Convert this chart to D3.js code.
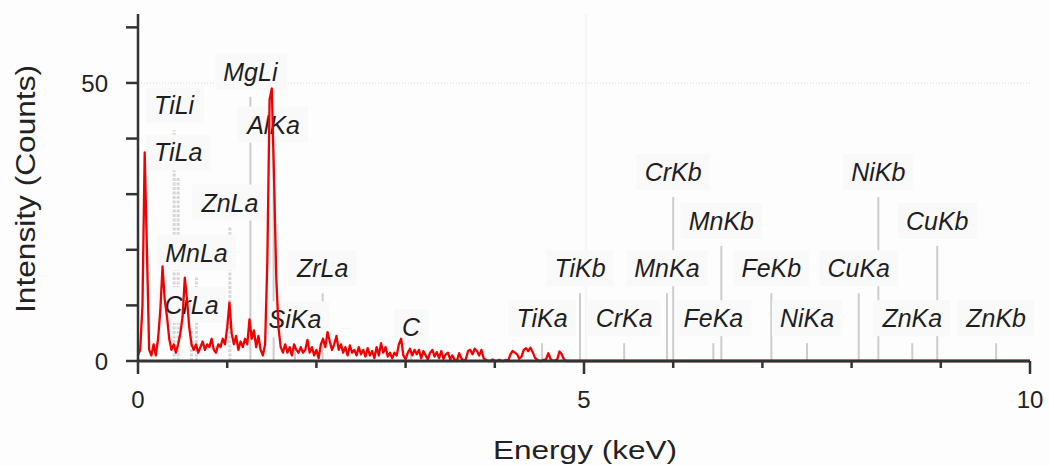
<!DOCTYPE html>
<html>
<head>
<meta charset="utf-8">
<script src="https://cdn.jsdelivr.net/npm/d3@7"></script>
<style>
  body { margin: 0; background: #fdfdfd; }
  text { font-family: 'Liberation Sans', Arial, sans-serif; }
</style>
</head>
<body>
<div id="chart"></div>
<script>
// spectrum channels: 0.025 keV wide, starting at 0 keV
const channelWidth = 0.025;
const counts = [
  1, 2, 10, 37.5, 20, 2, 1, 3, 1, 4,
  9, 17, 11, 8, 4, 2, 3, 1.5, 3, 5,
  8, 15, 11, 6, 3, 2, 3, 1.5, 2.5, 3.5,
  2, 3, 2.5, 4, 2, 1.5, 3, 2.5, 4, 3,
  6, 10.5, 5, 3, 4.5, 2, 3.5, 2.5, 4, 3,
  7.5, 4, 5.5, 2.5, 4.5, 2, 1, 3, 18, 47,
  49, 33, 15, 6, 2.5, 1.5, 3, 1.5, 2.5, 1,
  3, 2, 1.5, 2.5, 1.5, 2, 3.8, 1.5, 2.5, 1,
  2, 0.5, 3, 4, 2.5, 5.2, 3.5, 2, 3, 4.5,
  2, 3, 1.5, 2.5, 1, 2.8, 1.5, 2, 1, 2.5,
  1.2, 2, 0.8, 2.3, 1, 1.8, 0.5, 2.5, 1, 3.2,
  1.5, 2.5, 0.8, 1.5, 0.5, 1.5, 1, 3, 4, 1,
  0.3, 1.5, 2.2, 1, 2, 1.2, 2, 0.5, 1.8, 1,
  0.3, 1.5, 2, 0.8, 1.6, 0.5, 1.8, 0.4, 1.2, 1.5,
  0.3, 1, 0.2, 0, 1.4, 0.5, 0, 0.3, 1.8, 2,
  1.2, 2.2, 1.8, 1, 2, 0.5, 0.2, 0, 0, 0.3,
  0, 0, 0.2, 0, 0, 0.2, 0, 1.2, 1.8, 1.5,
  1.2, 0.4, 0.8, 2, 2.3, 1.8, 2.4, 1.6, 0.6, 0.2,
  0, 0, 0.2, 0.3, 1.4, 0.4, 0, 0.1, 0.3, 1.7,
  1.2, 0.3, 0
];
const spectrumEnd = 10;

// element markers
const lineNames = ['TiLi', 'TiLa', 'CrLa', 'MnLa', 'ZnLa', 'MgLi', 'AlKa', 'SiKa', 'ZrLa', 'C',
  'TiKa', 'TiKb', 'CrKa', 'MnKa', 'CrKb', 'FeKa', 'MnKb', 'FeKb', 'NiKa', 'CuKa',
  'NiKb', 'ZnKa', 'CuKb', 'ZnKb'];
const lineEnergies = [0.405, 0.45, 0.6, 0.655, 1.03, 1.26, 1.52, 1.76, 2.07, 3.06,
  4.53, 4.955, 5.45, 5.93, 6.0, 6.45, 6.54, 7.1, 7.5, 8.08,
  8.3, 8.68, 8.96, 9.62];
const lineHeights = [41.5, 33, 5.6, 15, 24, 47.5, 38, 3, 12.2, 1.6,
  3.2, 12.2, 3.2, 12.2, 29.5, 3.2, 20.7, 12.2, 3.2, 12.2,
  29.5, 3.2, 20.7, 3.2];
const dashedLines = ['TiLi', 'TiLa', 'CrLa', 'MnLa', 'ZnLa'];

const xTicks = [0, 1, 2, 3, 4, 5, 6, 7, 8, 9, 10];
const xTickLabels = [0, 5, 10];
const yTicks = [0, 10, 20, 30, 40, 50, 60];
const yTickLabels = [0, 50];

const svg = d3.select('#chart').append('svg')
    .attr('width', 1049)
    .attr('height', 466);

svg.append('rect')
    .attr('width', 1049)
    .attr('height', 466)
    .attr('fill', '#fdfdfd');

const x = d3.scaleLinear().domain([0, 10]).range([138, 1030]);
const y = d3.scaleLinear().domain([0, 62.4]).range([361, 14]);

// faint grid at the major values
svg.append('line')
    .attr('x1', x(0)).attr('x2', x(10))
    .attr('y1', y(50)).attr('y2', y(50))
    .attr('stroke', '#d8d8d8')
    .attr('stroke-width', 1)
    .attr('stroke-dasharray', '1,2');

svg.append('line')
    .attr('x1', x(5) + 2).attr('x2', x(5) + 2)
    .attr('y1', y(62.4)).attr('y2', y(0))
    .attr('stroke', '#eeeeee')
    .attr('stroke-width', 1);

// marker lines
const markers = lineNames.map((name, i) => ({name, e: lineEnergies[i], h: lineHeights[i]}));

svg.append('g').selectAll('line')
    .data(markers)
    .join('line')
    .attr('x1', d => x(d.e)).attr('x2', d => x(d.e))
    .attr('y1', y(0)).attr('y2', d => y(d.h))
    .attr('stroke', d => dashedLines.includes(d.name) ? '#d6d6d6' : '#cdcdcd')
    .attr('stroke-width', d => dashedLines.includes(d.name) ? 3 : 2)
    .attr('stroke-dasharray', d => dashedLines.includes(d.name) ? '3,1.5' : null);

// labels with their pale boxes
const labels = svg.append('g').selectAll('g')
    .data(markers)
    .join('g')
    .attr('transform', d => 'translate(' + x(d.e) + ',' + (y(d.h) - 16) + ')');

labels.append('text')
    .attr('text-anchor', 'middle')
    .attr('font-size', 25)
    .attr('font-style', 'italic')
    .attr('fill', '#1e1e1e')
    .text(d => d.name);

labels.each(function () {
  const g = d3.select(this);
  const box = g.select('text').node().getBBox();
  g.insert('rect', 'text')
      .attr('x', box.x - 8)
      .attr('y', box.y - 4)
      .attr('width', box.width + 16)
      .attr('height', box.height + 8)
      .attr('fill', '#f9f9f9');
});

// spectrum
const spectrum = counts.map((c, i) => ({e: i * channelWidth, c}));
spectrum.push({e: spectrumEnd, c: 0});

const line = d3.line()
    .x(d => x(d.e))
    .y(d => y(d.c));

svg.append('path')
    .datum(spectrum)
    .attr('fill', 'none')
    .attr('stroke', '#f00000')
    .attr('stroke-width', 2.3)
    .attr('stroke-linejoin', 'round')
    .attr('d', line);

// axes
const axisColor = '#333';

svg.append('line')
    .attr('x1', x(0)).attr('x2', x(10))
    .attr('y1', y(0)).attr('y2', y(0))
    .attr('stroke', axisColor)
    .attr('stroke-width', 3);

svg.append('line')
    .attr('x1', x(0)).attr('x2', x(0))
    .attr('y1', y(62.4)).attr('y2', y(0) + 1)
    .attr('stroke', axisColor)
    .attr('stroke-width', 2.5);

svg.append('g').selectAll('line')
    .data(xTicks)
    .join('line')
    .attr('x1', d => x(d)).attr('x2', d => x(d))
    .attr('y1', y(0))
    .attr('y2', d => y(0) + (d % 5 === 0 ? 13 : 7))
    .attr('stroke', axisColor)
    .attr('stroke-width', 2.5);

svg.append('g').selectAll('text')
    .data(xTickLabels)
    .join('text')
    .attr('x', d => x(d))
    .attr('y', 408)
    .attr('text-anchor', 'middle')
    .attr('font-size', 24)
    .attr('fill', '#222')
    .text(d => d);

svg.append('g').selectAll('line')
    .data(yTicks)
    .join('line')
    .attr('x1', x(0) - 12).attr('x2', x(0))
    .attr('y1', d => y(d)).attr('y2', d => y(d))
    .attr('stroke', axisColor)
    .attr('stroke-width', 2.5);

svg.append('g').selectAll('text')
    .data(yTickLabels)
    .join('text')
    .attr('x', 108)
    .attr('y', d => y(d) + 9)
    .attr('text-anchor', 'end')
    .attr('font-size', 24)
    .attr('fill', '#222')
    .text(d => d);

svg.append('text')
    .attr('x', 585)
    .attr('y', 459)
    .attr('text-anchor', 'middle')
    .attr('font-size', 26)
    .attr('fill', '#222')
    .attr('textLength', 184)
    .attr('lengthAdjust', 'spacingAndGlyphs')
    .text('Energy (keV)');

svg.append('text')
    .attr('transform', 'translate(35,189) rotate(-90)')
    .attr('text-anchor', 'middle')
    .attr('font-size', 27)
    .attr('fill', '#222')
    .attr('textLength', 248)
    .attr('lengthAdjust', 'spacingAndGlyphs')
    .text('Intensity (Counts)');
</script>
</body>
</html>
